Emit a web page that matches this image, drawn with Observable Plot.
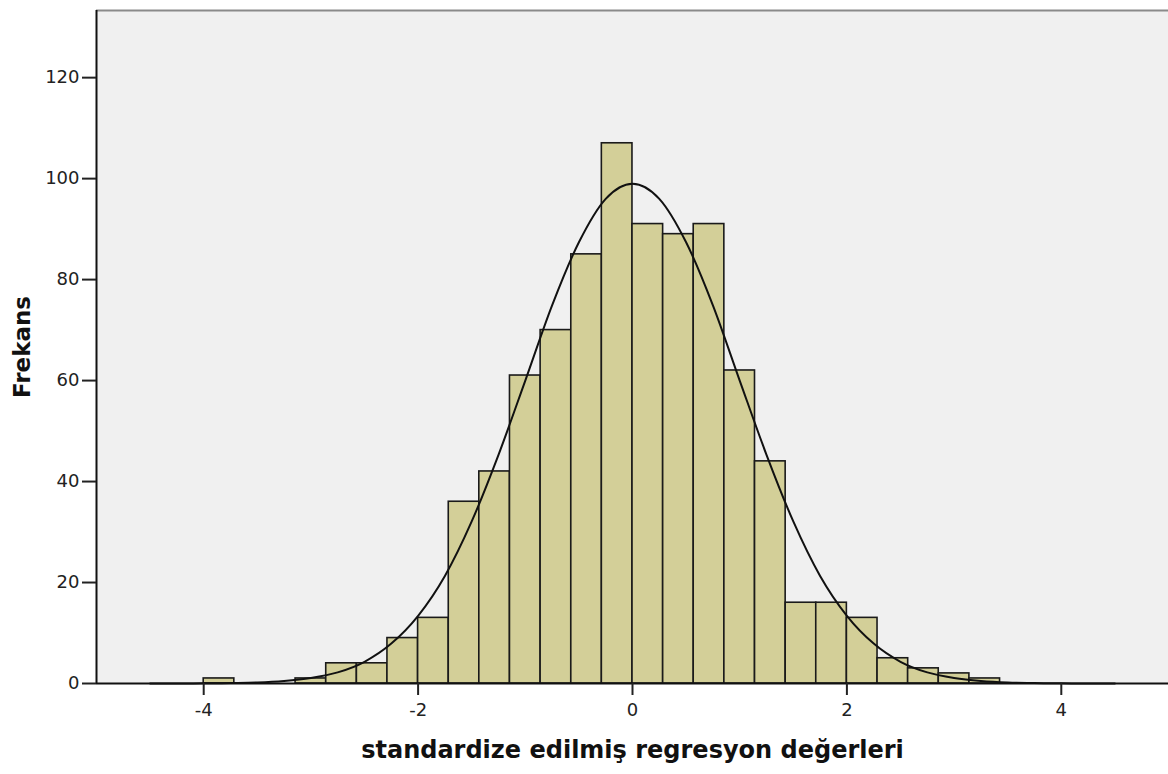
<!DOCTYPE html>
<html>
<head>
<meta charset="utf-8">
<script src="https://cdn.jsdelivr.net/npm/d3@7"></script>
<script src="https://cdn.jsdelivr.net/npm/@observablehq/plot@0.6"></script>
<style>
  html, body { margin: 0; padding: 0; background: #fff; }
  #chart svg { display: block; }
</style>
</head>
<body>
<div id="chart"></div>
<script>
// Histogram bins (lower edge), bin width and counts
const binStarts = [-4.000,-3.714,-3.429,-3.143,-2.857,-2.571,-2.286,-2.000,-1.714,-1.429,-1.143,-0.857,-0.571,-0.286,0.000,0.286,0.571,0.857,1.143,1.429,1.714,2.000,2.286,2.571,2.857,3.143];
const binWidth = 0.2857;
const counts    = [1,0,0,1,4,4,9,13,36,42,61,70,85,107,91,89,91,62,44,16,16,13,5,3,2,1];

// Points
const curveX = [-4.5,-4.25,-4,-3.75,-3.5,-3.25,-3,-2.75,-2.5,-2.25,-2,-1.75,-1.5,-1.25,-1,-0.75,-0.5,-0.25,0,0.25,0.5,0.75,1,1.25,1.5,1.75,2,2.25,2.5,2.75,3,3.25,3.5,3.75,4,4.25,4.5];
const curveY = [0.0,0.0,0.03,0.1,0.2,0.5,1.1,2.2,4.3,7.9,13.4,21.3,32.1,45.3,60.0,74.9,87.4,96.0,99.0,96.0,87.4,74.9,60.0,45.3,32.1,21.3,13.4,7.9,4.3,2.2,1.1,0.5,0.2,0.1,0.03,0.0,0.0];

const xTicks = [-4,-2,0,2,4];
const yTicks = [0,20,40,60,80,100,120];
const xLabel = "standardize edilmiş regresyon değerleri";
const yLabel = "Frekans";

const bins = binStarts.map((s, i) => ({x1: s, x2: s + binWidth, y: counts[i]})).filter(d => d.y > 0);
const curve = curveX.map((x, i) => ({x, y: curveY[i]}));

const chart = Plot.plot({
  width: 1168,
  height: 774,
  marginLeft: 96,
  marginRight: 0,
  marginTop: 10,
  marginBottom: 91,
  style: {fontFamily: "DejaVu Sans", fontSize: "18px", color: "#222", background: "#fff"},
  x: {domain: [-5, 5]},
  y: {domain: [0, 133.3]},
  marks: [
    Plot.frame({fill: "#f0f0f0", stroke: null}),
    Plot.ruleY([133.3], {stroke: "#8a8a8a", strokeWidth: 2}),
    Plot.rectY(bins, {x1: "x1", x2: "x2", y: "y", fill: "#d3cf98", stroke: "#1a1a1a", strokeWidth: 1.6, inset: 0}),
    Plot.line(curve, {x: "x", y: "y", stroke: "#111", strokeWidth: 2, curve: "monotone-x"}),
    Plot.ruleY([0], {stroke: "#111", strokeWidth: 2}),
    Plot.ruleX([-5], {stroke: "#111", strokeWidth: 2}),
    Plot.axisY({ticks: yTicks, tickSize: 14, tickPadding: 3, label: null, fontSize: 18, strokeWidth: 2, tickFormat: d => String(d)}),
    Plot.axisX({ticks: xTicks, tickSize: 12, tickPadding: 8, label: null, fontSize: 18, strokeWidth: 2, tickFormat: d => String(d)}),
    Plot.text([xLabel], {frameAnchor: "bottom", dy: 67, fontSize: 24, fontWeight: "bold", fill: "#111", lineAnchor: "middle", textAnchor: "middle"}),
    Plot.text([yLabel], {frameAnchor: "left", dx: -74, rotate: -90, fontSize: 23, fontWeight: "bold", fill: "#111", lineAnchor: "middle", textAnchor: "middle"})
  ]
});
document.getElementById("chart").appendChild(chart);
</script>
</body>
</html>
